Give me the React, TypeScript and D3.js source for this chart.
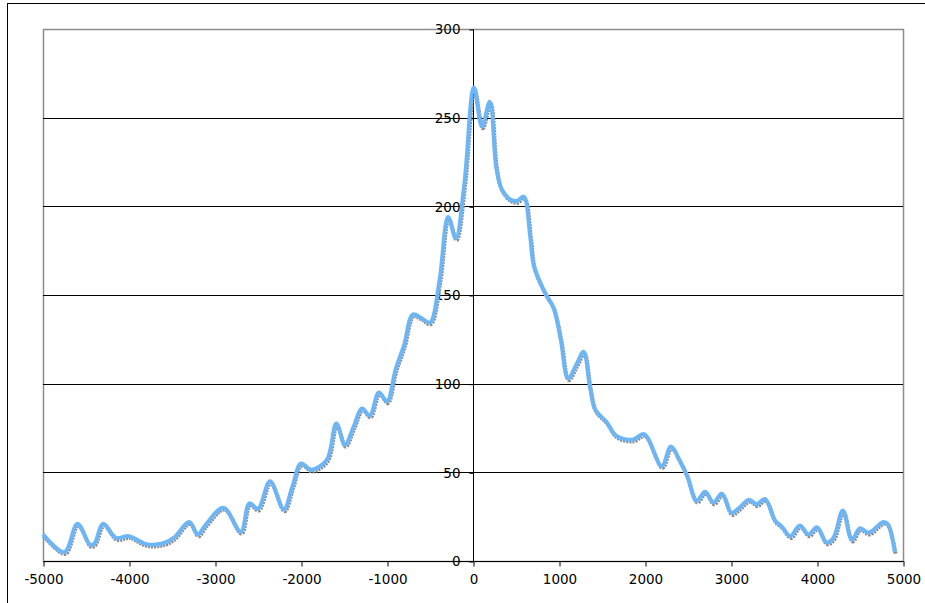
import React, { useRef, useEffect } from "react";
import * as d3 from "d3";

// years (x) and counts (y)
const xValues = [
    -5000, -4750, -4600, -4450, -4400, -4300, -4150, -4000, -3800, -3600, -3480,
    -3300, -3200, -3100, -2900, -2700, -2600, -2500, -2360, -2200, -2100, -2000,
    -1880, -1700, -1590, -1490, -1390, -1290, -1200, -1095, -1000, -900, -800,
    -700, -600, -500, -390, -290, -200, -100, 10, 105, 195, 270, 330, 430, 510,
    590, 665, 710, 840, 935, 1020, 1105, 1200, 1285, 1360, 1420, 1550, 1670, 1860,
    1990, 2195, 2300, 2400, 2490, 2600, 2700, 2795, 2895, 3005, 3085, 3210, 3300,
    3395, 3510, 3590, 3690, 3800, 3900, 4000, 4110, 4190, 4300, 4405, 4500, 4600,
    4770, 4820, 4905,
];
const yValues = [
    15, 5, 21, 9, 10, 21, 13, 14, 9.5, 10, 13, 22, 15, 21, 30, 16.5, 32.5, 29.5, 45,
    29, 42, 55, 51.5, 57, 77.5, 65.5, 75.5, 86, 82, 95, 90, 108, 122, 139, 137, 134.5,
    158, 194, 182, 213, 267, 245, 259, 222, 210, 204, 203, 205.5, 183, 166, 151, 143,
    125, 103, 110.5, 118, 98, 85.5, 78.5, 70.5, 68.5, 71.5, 53.5, 64.5, 57, 48, 34,
    39, 33, 38, 27, 29.5, 34.5, 32, 35, 23, 19.5, 14, 20, 15, 19, 10.5, 13, 28.5, 12,
    18.5, 16, 22, 21, 5,
];
const xTicks = [-5000, -4000, -3000, -2000, -1000, 0, 1000, 2000, 3000, 4000, 5000];
const yTicks = [0, 50, 100, 150, 200, 250, 300];

export default function App() {
    const svgRef = useRef<SVGSVGElement>(null);

    useEffect(() => {
        if (!svgRef.current) return;
        const svg = d3.select(svgRef.current);
        svg.selectAll("*").remove();

        const left = 43, right = 903, top = 29, bottom = 561;
        const x = d3.scaleLinear().domain([-5000, 5000]).range([left, right]);
        const y = d3.scaleLinear().domain([0, 300]).range([bottom, top]);
        const font = "'DejaVu Sans', Verdana, sans-serif";

        // outer chart frame (runs off the page on the right/bottom)
        svg.append("rect")
            .attr("x", 7.5).attr("y", 3.5)
            .attr("width", 1000).attr("height", 700)
            .attr("fill", "white").attr("stroke", "black");

        // plot area border
        svg.append("rect")
            .attr("x", left + 0.5).attr("y", top + 0.5)
            .attr("width", right - left).attr("height", bottom - top)
            .attr("fill", "white").attr("stroke", "#8c8c8c").attr("stroke-width", 1.5);

        // horizontal gridlines
        svg.append("g").selectAll("line")
            .data(yTicks.filter(d => d > 0 && d < 300))
            .join("line")
            .attr("x1", left).attr("x2", right)
            .attr("y1", d => Math.round(y(d)) + 0.5).attr("y2", d => Math.round(y(d)) + 0.5)
            .attr("stroke", "#000");

        // x axis along y=0
        const xAxis = d3.axisBottom(x).tickValues(xTicks).tickSize(5).tickPadding(8)
            .tickFormat(d => String(d));
        const gx = svg.append("g").attr("transform", `translate(0.5,${bottom + 0.5})`).call(xAxis);
        gx.select(".domain").attr("d", `M${left},0H${right}`).attr("stroke", "#000");
        gx.selectAll("text").attr("font-family", font).attr("font-size", 13.5).attr("fill", "#000");

        // y axis along x=0
        const yAxis = d3.axisLeft(y).tickValues(yTicks).tickSize(4).tickPadding(9)
            .tickFormat(d => String(d));
        const gy = svg.append("g").attr("transform", `translate(${Math.round(x(0)) + 0.5},0.5)`).call(yAxis);
        gy.select(".domain").attr("d", `M0,${top}V${bottom}`).attr("stroke", "#000");
        gy.selectAll("text").attr("font-family", font).attr("font-size", 13.5).attr("fill", "#000");

        const pts: [number, number][] = xValues.map((v, i) => [v, yValues[i]]);
        const line = d3.line<[number, number]>()
            .x(d => x(d[0]))
            .y(d => y(d[1]))
            .curve(d3.curveCatmullRom.alpha(0.5));

        // grey series sitting just under the blue one
        svg.append("path")
            .datum(pts)
            .attr("d", line)
            .attr("transform", "translate(0.8,1.8)")
            .attr("fill", "none")
            .attr("stroke", "#8a8a8a")
            .attr("stroke-width", 4)
            .attr("stroke-dasharray", "2,1");

        svg.append("path")
            .datum(pts)
            .attr("d", line)
            .attr("fill", "none")
            .attr("stroke", "#6cb6f8")
            .attr("stroke-width", 4)
            .attr("stroke-linejoin", "round");
    }, []);

    return (
        <svg ref={svgRef} width={925} height={603}
            style={{ position: "absolute", left: 0, top: 0, display: "block" }} />
    );
}
